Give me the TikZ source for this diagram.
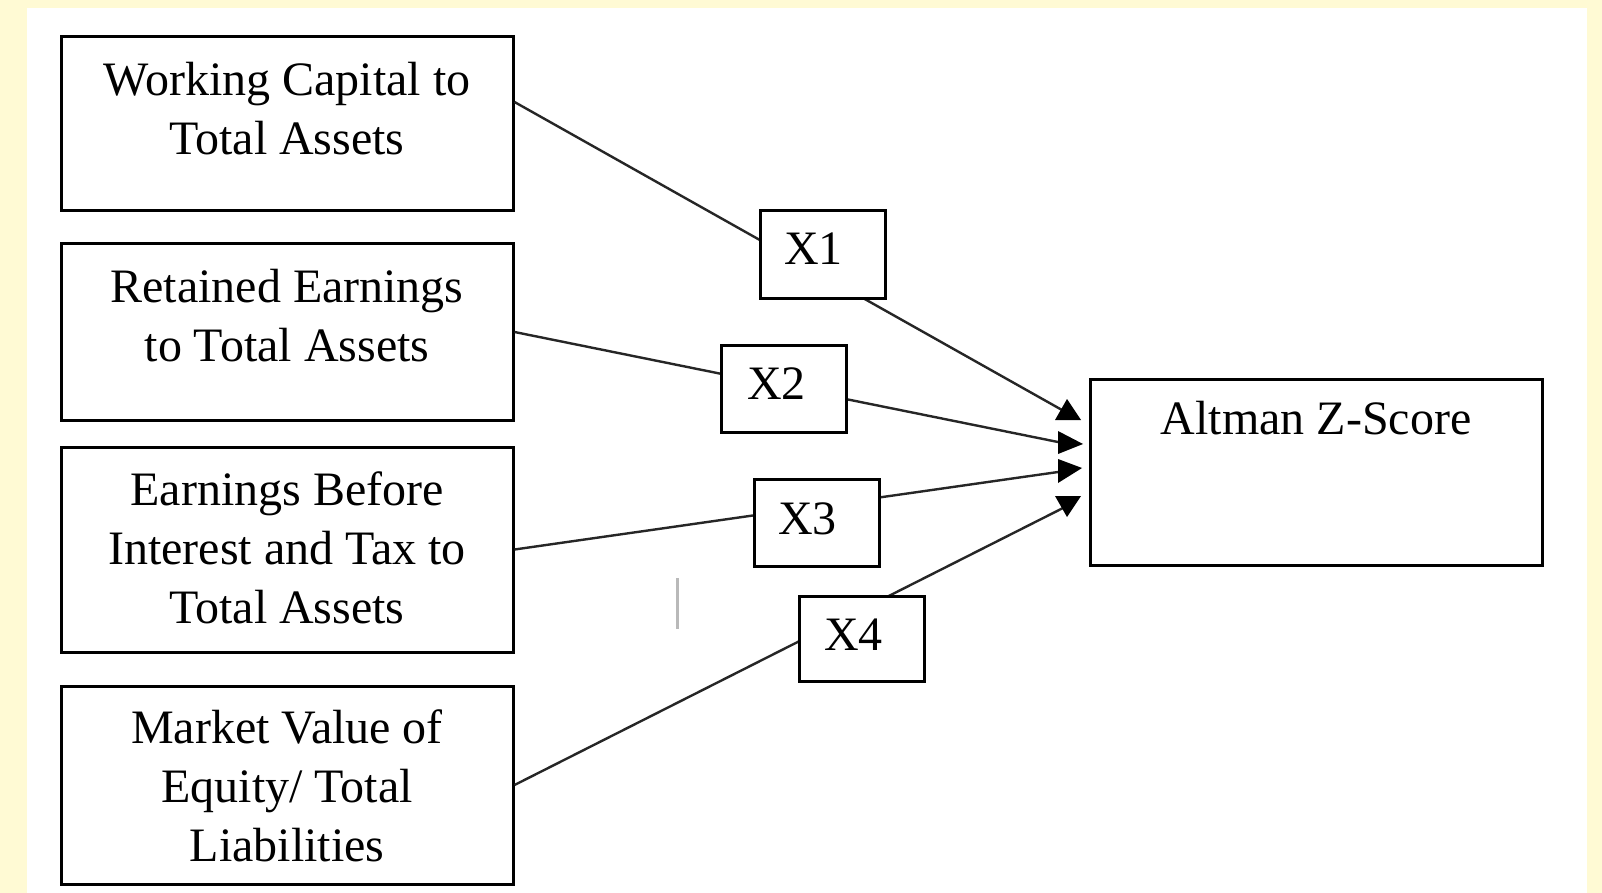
\documentclass[tikz,border=0pt]{standalone}
\usepackage{fontspec}
\setmainfont{Liberation Serif}
\definecolor{pagebg}{RGB}{255,250,212}
\begin{document}
\begin{tikzpicture}[x=1pt,y=-1pt,
  box/.style={draw=black, line width=3pt, fill=white, inner sep=0pt, minimum width=452pt},
  xbox/.style={draw=black, line width=3pt, fill=white, inner sep=0pt, minimum width=125pt, minimum height=87pt},
  txt/.style={font=\fontsize{48}{59}\selectfont, align=center, anchor=base, inner sep=0pt},
  link/.style={line width=2.4pt, draw=black!85},
  tipfill/.style={fill=black},
]
% page and white panel
\fill[pagebg] (0,0) rectangle (1602,893);
\fill[white] (27,8) rectangle (1587,893);
\useasboundingbox (0,0) rectangle (1602,893);

% ratio boxes
\node[box, minimum height=174pt] (b1) at (287,124) {};
\node[box, minimum height=176pt] (b2) at (287,332) {};
\node[box, minimum height=205pt] (b3) at (287,549.5) {};
\node[box, minimum height=198pt] (b4) at (287,785) {};
\node[box, minimum height=186pt] (az) at (1316,472) {};

% texts are placed by the baseline of their last line
\node[txt] at ([yshift=-119pt]b1.north) {Working Capital to\\Total Assets};
\node[txt] at ([yshift=-119pt]b2.north) {Retained Earnings\\to Total Assets};
\node[txt] at ([yshift=-178pt]b3.north) {Earnings Before\\Interest and Tax to\\Total Assets};
\node[txt] at ([yshift=-177pt]b4.north) {Market Value of\\Equity/ Total\\Liabilities};
\node[txt] at ([yshift=-57pt]az.north) {Altman Z-Score};

% arrow ends beside the score box
\coordinate (e1) at (1062,410);
\coordinate (e2) at (1058,442);
\coordinate (e3) at (1058,472);
\coordinate (e4) at (1063,508);

\draw[link] ([yshift=22pt]b1.east) -- (e1);
\draw[link] (b2.east) -- (e2);
\draw[link] (b3.east) -- (e3);
\draw[link] (b4.east) -- (e4);

% arrow heads
\fill[tipfill] (1055,420) -- (1067,399) -- (1081,420) -- cycle;
\fill[tipfill] (1058,431) -- (1083,444) -- (1058,454) -- cycle;
\fill[tipfill] (1058,459) -- (1082,468) -- (1058,483) -- cycle;
\fill[tipfill] (1055,496) -- (1081,496) -- (1067,517) -- cycle;

% weight labels on the links
\node[xbox] (x1) at (822.5,254.5) {};
\node[xbox] (x2) at (783.5,388.5) {};
\node[xbox] (x3) at (816.5,522.5) {};
\node[xbox, minimum height=85pt] (x4) at (861.5,639) {};
\node[txt] at ([xshift=-9pt,yshift=-55pt]x1.north) {X1};
\node[txt] at ([xshift=-7pt,yshift=-56pt]x2.north) {X2};
\node[txt] at ([xshift=-9pt,yshift=-57pt]x3.north) {X3};
\node[txt] at ([xshift=-8pt,yshift=-55pt]x4.north) {X4};

% stray caret mark
\draw[gray!55, line width=3pt] (677,578) -- (677,629);
\end{tikzpicture}
\end{document}
